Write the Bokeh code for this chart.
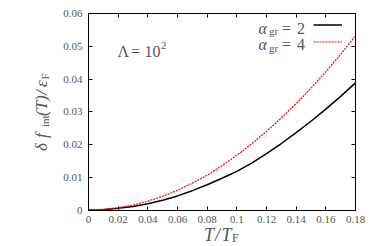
import math
from bokeh.plotting import figure
from bokeh.models import (Range1d, LinearAxis, FixedTicker, Label, Legend, LegendItem)
from bokeh.embed import file_html
from bokeh.resources import INLINE

# ---- data ----
T_over_TF = [0.0, 0.01, 0.02, 0.03, 0.04, 0.05, 0.06, 0.07, 0.08, 0.09,
             0.10, 0.11, 0.12, 0.13, 0.14, 0.15, 0.16, 0.17, 0.18]
df_alpha2 = [0.0, 0.0001, 0.0005, 0.0011, 0.0019, 0.0030, 0.0043, 0.0059, 0.0077, 0.0097,
             0.0118, 0.0143, 0.0172, 0.0203, 0.0236, 0.0271, 0.0308, 0.0347, 0.0388]
df_alpha4 = [0.0, 0.0002, 0.0007, 0.0015, 0.0027, 0.0042, 0.0060, 0.0082, 0.0106, 0.0135,
             0.0167, 0.0202, 0.0240, 0.0281, 0.0325, 0.0372, 0.0422, 0.0475, 0.0532]

x_ticks = [0.0, 0.02, 0.04, 0.06, 0.08, 0.10, 0.12, 0.14, 0.16, 0.18]
x_tick_labels = ["0", "0.02", "0.04", "0.06", "0.08", "0.1", "0.12", "0.14", "0.16", "0.18"]
y_ticks = [0.0, 0.01, 0.02, 0.03, 0.04, 0.05, 0.06]
y_tick_labels = ["0", "0.01", "0.02", "0.03", "0.04", "0.05", "0.06"]

X_MIN, X_MAX = 0.0, 0.18
Y_MIN, Y_MAX = 0.0, 0.06

# ---- layout (pixels) ----
W, H = 374, 246
BOX_L, BOX_R, BOX_T, BOX_B = 88.0, 355.0, 13.0, 209.5
FONT = "Liberation Serif"
TXT = "#555555"

xs = (X_MAX - X_MIN) / (BOX_R - BOX_L)
ys = (Y_MAX - Y_MIN) / (BOX_B - BOX_T)
x_range = Range1d(X_MIN - BOX_L * xs, X_MAX + (W - BOX_R) * xs)
y_range = Range1d(Y_MIN - (H - BOX_B) * ys, Y_MAX + BOX_T * ys)

p = figure(width=W, height=H, x_range=x_range, y_range=y_range,
           output_backend="svg", toolbar_location=None,
           min_border_left=0, min_border_right=0, min_border_top=0, min_border_bottom=0)
p.xgrid.visible = False
p.ygrid.visible = False
p.outline_line_color = None

def style_axis(ax, ticks, labels, show_labels, loc, bounds):
    ax.fixed_location = loc
    ax.bounds = bounds
    ax.ticker = FixedTicker(ticks=ticks)
    ax.major_label_overrides = {t: (l if show_labels else "") for t, l in zip(ticks, labels)}
    ax.minor_tick_line_color = None
    ax.major_tick_in = 4
    ax.major_tick_out = 0
    ax.axis_line_color = "black"
    ax.major_tick_line_color = "black"
    ax.axis_line_width = 1
    ax.major_label_text_font = FONT
    ax.major_label_text_font_size = "11px"
    ax.major_label_text_color = TXT
    ax.major_label_standoff = 6

style_axis(p.xaxis[0], x_ticks, x_tick_labels, True, Y_MIN, (X_MIN, X_MAX))
style_axis(p.yaxis[0], y_ticks, y_tick_labels, True, X_MIN, (Y_MIN, Y_MAX))
top = LinearAxis()
style_axis(top, x_ticks, x_tick_labels, False, Y_MAX, (X_MIN, X_MAX))
p.add_layout(top, "above")
right = LinearAxis()
style_axis(right, y_ticks, y_tick_labels, False, X_MAX, (Y_MIN, Y_MAX))
p.add_layout(right, "right")

r2 = p.line(T_over_TF, df_alpha2, line_color="black", line_width=1.5)
r4 = p.line(T_over_TF, df_alpha4, line_color="#ff0000", line_width=1.2, line_dash="2 1")

legend = Legend(items=[LegendItem(label=" ", renderers=[r2]),
                       LegendItem(label=" ", renderers=[r4])],
                location=(313, 196), glyph_width=29, glyph_height=17, label_height=17,
                label_width=0, label_standoff=0, padding=0, margin=0, spacing=0,
                border_line_alpha=0, background_fill_alpha=0, label_text_font_size="8px")
p.add_layout(legend, "center")

def txt(s, px, py, size, italic=False, angle=0.0):
    lab = Label(x=px, y=H - py, x_units="screen", y_units="screen",
                text=s, text_font=FONT, text_font_size=f"{size}px",
                text_font_style="italic" if italic else "normal",
                text_color=TXT, text_align="left", text_baseline="alphabetic",
                angle=angle)
    p.add_layout(lab, "center")

# x-axis label  T/T_F
txt("T", 203.5, 234.5, 18, True)
txt("/", 214.5, 234.5, 18, True)
txt("T", 221.0, 234.5, 18, True)
txt("F", 231.5, 237.0, 12)

# y-axis label  δ f_int(T)/ε_F  (rotated)
A = math.pi / 2
txt("δ", 41, 150.5, 17, True, A)
txt("f", 41, 137.5, 17, True, A)
txt("int", 44, 126.5, 11, False, A)
txt("(T)", 41, 115.5, 17, True, A)
txt("/", 41, 94.5, 17, True, A)
txt("ε", 41, 86.5, 17, True, A)
txt("F", 44, 79.0, 11, False, A)

# annotation Λ = 10^2
txt("Λ", 117.0, 51, 16)
txt("=", 130.5, 51, 16)
txt("10", 144.0, 51, 16)
txt("2", 160.5, 45, 11)

# legend texts
for base, val in ((27.5, "2"), (44.2, "4")):
    txt("α", 258.0, base, 16, True)
    txt("gr", 268.5, base + 3, 11)
    txt("=", 281.5, base, 16)
    txt(val, 296.5, base, 16)

open("out.html", "w").write(file_html(p, INLINE))
